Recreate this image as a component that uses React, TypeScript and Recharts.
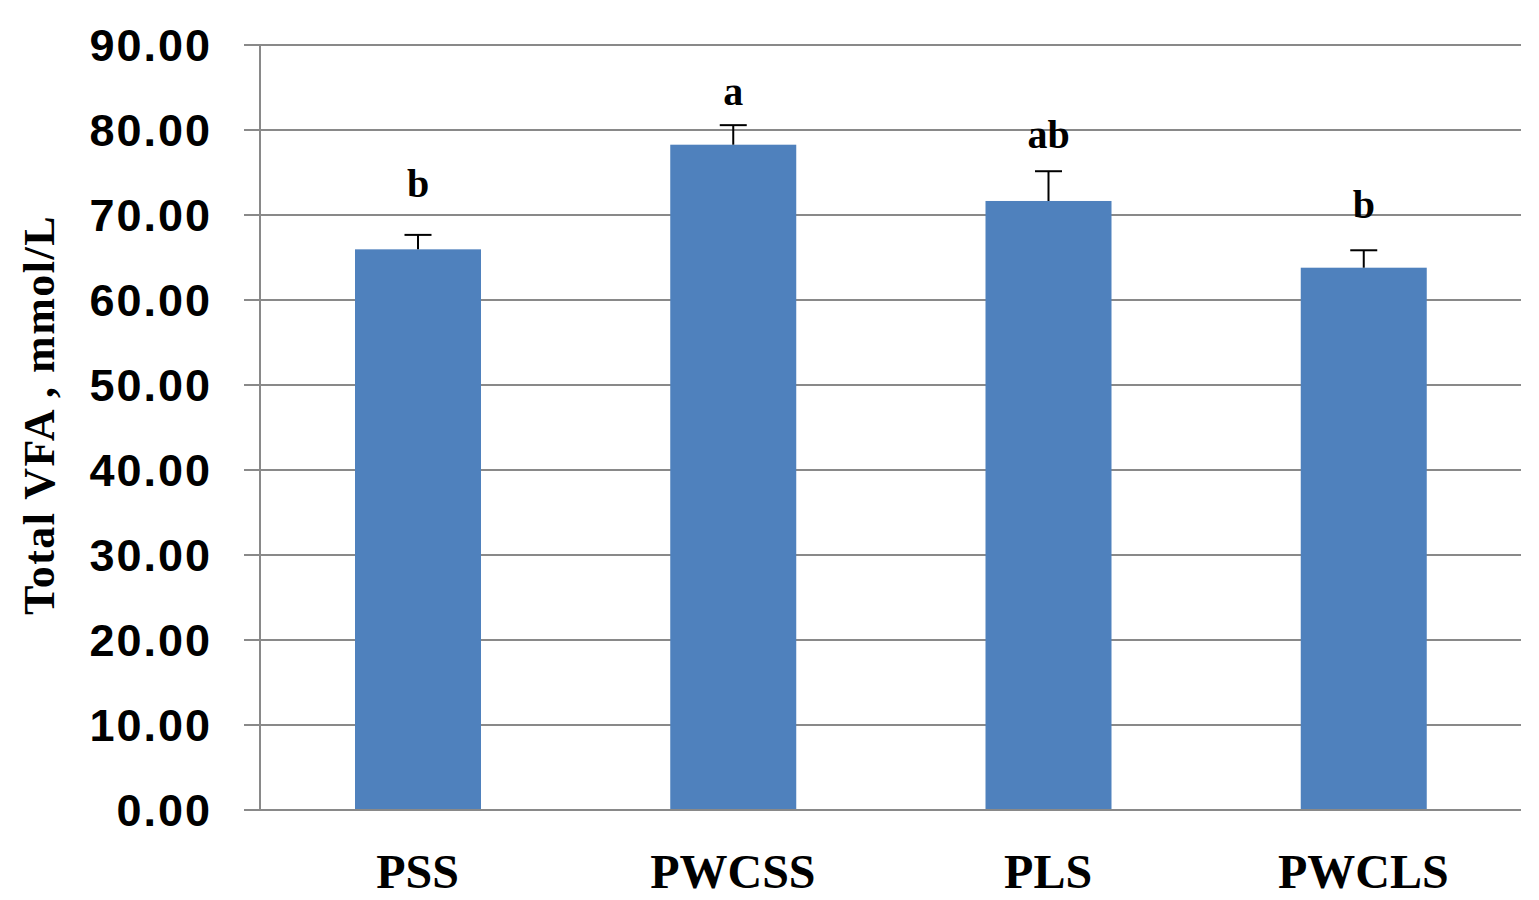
import { BarChart, Bar, XAxis, YAxis, CartesianGrid } from 'recharts';

const categories = ['PSS', 'PWCSS', 'PLS', 'PWCLS'];
const totalVfa = [65.96, 78.27, 71.65, 63.8];
const upperError = [1.7, 2.3, 3.5, 2.05];
const letters = ['b', 'a', 'ab', 'b'];
// level (in mmol/L) of each letter's baseline
const letterLevel = [72.1, 82.9, 77.9, 69.6];
const yTicks = [0, 10, 20, 30, 40, 50, 60, 70, 80, 90];

const data = categories.map((name, i) => ({
  name,
  vfa: totalVfa[i],
  err: upperError[i],
  letter: letters[i],
  letterAt: letterLevel[i],
}));

const GRID = '#898989';
const SERIF = "'Liberation Serif', 'Times New Roman', serif";

// bar + one-sided (upper) error bar + significance letter
function BarWithError(props: any) {
  const { x, y, width, height, payload, fill } = props;
  const perUnit = height / payload.vfa;
  const cx = x + width / 2;
  const errTop = y - payload.err * perUnit;
  const letterY = y + height - payload.letterAt * perUnit;
  return (
    <g>
      <rect x={x} y={y} width={width} height={height} fill={fill} />
      <line x1={cx} x2={cx} y1={y} y2={errTop} stroke="#000" strokeWidth={2} />
      <line x1={cx - 13.5} x2={cx + 13.5} y1={errTop} y2={errTop} stroke="#000" strokeWidth={2} />
      <text x={cx} y={letterY} textAnchor="middle" fontFamily={SERIF} fontWeight="bold" fontSize={40} fill="#000">
        {payload.letter}
      </text>
    </g>
  );
}

export default function App() {
  return (
    <div style={{ position: 'absolute', left: 0, top: 0, width: 1539, height: 900, background: '#fff' }}>
      <BarChart width={1539} height={900} data={data} margin={{ top: 45, right: 18, bottom: 0, left: 0 }}>
        <CartesianGrid vertical={false} stroke={GRID} strokeWidth={2} />
        <XAxis
          dataKey="name"
          height={90}
          tickLine={false}
          tickSize={0}
          tickMargin={44}
          axisLine={{ stroke: GRID, strokeWidth: 2 }}
          tick={{ fill: '#000', fontSize: 48, fontWeight: 'bold', fontFamily: SERIF }}
        />
        <YAxis
          width={260}
          domain={[0, 90]}
          ticks={yTicks}
          interval={0}
          tickSize={16}
          tickMargin={32}
          tickLine={{ stroke: GRID, strokeWidth: 2 }}
          axisLine={{ stroke: GRID, strokeWidth: 2 }}
          tickFormatter={(v: number) => v.toFixed(2)}
          tick={{ fill: '#000', fontSize: 45, fontWeight: 'bold', letterSpacing: 2, fontFamily: "'Liberation Sans', Arial, sans-serif" }}
          label={{
            content: () => (
              <text
                x={39}
                y={415}
                transform="rotate(-90 39 415)"
                textAnchor="middle"
                dominantBaseline="central"
                fontFamily={SERIF}
                fontWeight="bold"
                fontSize={44}
                letterSpacing={1.5}
                fill="#000"
              >
                Total VFA , mmol/L
              </text>
            ),
          }}
        />
        <Bar dataKey="vfa" fill="#4F81BD" barSize={126} shape={<BarWithError />} isAnimationActive={false} />
      </BarChart>
    </div>
  );
}
